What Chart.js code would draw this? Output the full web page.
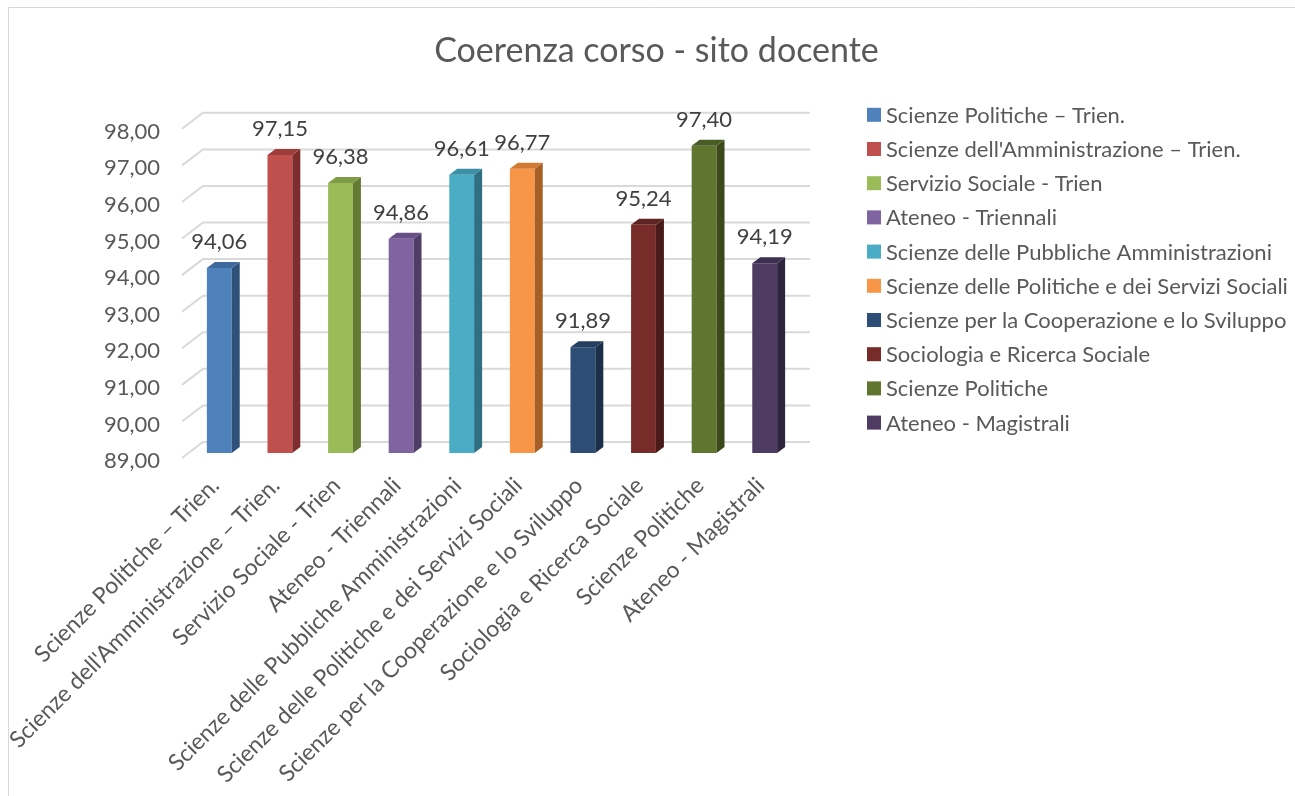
<!DOCTYPE html>
<html>
<head>
<meta charset="utf-8">
<script src="https://cdn.jsdelivr.net/npm/chart.js@4.4.1/dist/chart.umd.min.js"></script>
<style>
  html, body { margin: 0; padding: 0; background: #fff; }
  #wrap { position: relative; width: 1295px; height: 796px; }
</style>
</head>
<body>
<div id="wrap"><canvas id="chart" width="1295" height="796"></canvas></div>
<script>
// -----------------------------
// DATA
// -----------------------------
const categories = [
    "Scienze Politiche \u2013 Trien.",
    "Scienze dell'Amministrazione \u2013 Trien.",
    "Servizio Sociale - Trien",
    "Ateneo - Triennali",
    "Scienze delle Pubbliche Amministrazioni",
    "Scienze delle Politiche e dei Servizi Sociali",
    "Scienze per la Cooperazione e lo Sviluppo",
    "Sociologia e Ricerca Sociale",
    "Scienze Politiche",
    "Ateneo - Magistrali"
];
const values = [94.06, 97.15, 96.38, 94.86, 96.61, 96.77, 91.89, 95.24, 97.40, 94.19];
const yTicks = [89, 90, 91, 92, 93, 94, 95, 96, 97, 98];

const frontColors = ['#4F81BD', '#C0504D', '#9BBB59', '#8064A2', '#4BACC6', '#F79646', '#2C4D75', '#772C2A', '#5F7530', '#4D3B62'];
const topColors   = ['#3F6A9E', '#9E3E3B', '#7F9C46', '#684F86', '#3B8FA6', '#D07A33', '#233E5F', '#5F2322', '#4A5C25', '#3D2F4F'];
const sideColors  = ['#2F5079', '#7D2E2C', '#637A35', '#4F3C67', '#2E6F81', '#A65F25', '#1B2F49', '#4A1A19', '#3A481B', '#2F243D'];

const textColor = '#595959';
const fontFamily = 'Lato, "Open Sans", sans-serif';

// -----------------------------
// 3D LOOK: back wall grid + bar faces + labels + legend
// -----------------------------
const depth = { dx: 8, dy: -6 };
const wall = { dx: 14, dy: -11, left: 7, right: 15 };

const excel3d = {
    id: 'excel3d',
    beforeDraw(chart) {
        const c = chart.ctx;
        c.save();
        c.strokeStyle = '#D9D9D9';
        c.lineWidth = 1;
        c.beginPath();
        c.moveTo(8.5, 796); c.lineTo(8.5, 7.5); c.lineTo(1295, 7.5);
        c.stroke();
        c.restore();
    },
    beforeDatasetsDraw(chart) {
        const c = chart.ctx, y = chart.scales.y, area = chart.chartArea;
        c.save();
        c.strokeStyle = '#D9D9D9';
        c.lineWidth = 2;
        yTicks.forEach(t => {
            const py = y.getPixelForValue(t);
            c.beginPath();
            c.moveTo(area.left - wall.left, py + 5);
            c.lineTo(area.left + wall.dx, py + wall.dy);
            c.lineTo(area.right + wall.right, py + wall.dy);
            c.stroke();
        });
        c.restore();
    },
    afterDatasetsDraw(chart) {
        const c = chart.ctx, area = chart.chartArea;
        const meta = chart.getDatasetMeta(0);
        c.save();
        meta.data.forEach((bar, i) => {
            const l = bar.x - bar.width / 2, r = bar.x + bar.width / 2;
            const top = bar.y, base = Math.min(bar.base, area.bottom);
            // side face
            c.fillStyle = sideColors[i];
            c.beginPath();
            c.moveTo(r, top); c.lineTo(r + depth.dx, top + depth.dy);
            c.lineTo(r + depth.dx, base + depth.dy); c.lineTo(r, base);
            c.closePath(); c.fill();
            // top face
            c.fillStyle = topColors[i];
            c.beginPath();
            c.moveTo(l, top); c.lineTo(l + depth.dx, top + depth.dy);
            c.lineTo(r + depth.dx, top + depth.dy); c.lineTo(r, top);
            c.closePath(); c.fill();
            // value label
            c.fillStyle = '#404040';
            c.font = '22px ' + fontFamily;
            c.textAlign = 'center';
            c.textBaseline = 'middle';
            c.fillText(values[i].toFixed(2).replace('.', ','), bar.x, top - 26);
        });
        c.restore();
    },
    afterDraw(chart) {
        // legend, one entry per category, stacked at the right
        const c = chart.ctx, area = chart.chartArea;
        const x0 = area.right + 72, y0 = area.top - 9, step = 34.2;
        c.save();
        c.font = '22px ' + fontFamily;
        c.textAlign = 'left';
        c.textBaseline = 'middle';
        categories.forEach((name, i) => {
            const yc = y0 + i * step;
            c.fillStyle = frontColors[i];
            c.fillRect(x0, yc - 7, 14, 14);
            c.fillStyle = textColor;
            c.fillText(name, x0 + 19, yc + 1);
        });
        c.restore();
    }
};

// -----------------------------
// CHART
// -----------------------------
new Chart(document.getElementById('chart'), {
    type: 'bar',
    data: {
        labels: categories,
        datasets: [{
            label: 'Coerenza corso - sito docente',
            data: values,
            backgroundColor: frontColors,
            borderWidth: 0,
            barPercentage: 0.41,
            categoryPercentage: 1
        }]
    },
    options: {
        responsive: false,
        animation: false,
        layout: { padding: { left: 26, right: 8, top: 12, bottom: 0 } },
        plugins: {
            title: {
                display: true,
                text: 'Coerenza corso - sito docente',
                color: textColor,
                font: { family: fontFamily, size: 34, weight: 'normal' },
                padding: { top: 19, bottom: 52 }
            },
            legend: { display: false },
            tooltip: { enabled: false }
        },
        scales: {
            x: {
                grid: { display: false },
                border: { display: false },
                ticks: {
                    color: textColor,
                    font: { family: fontFamily, size: 23 },
                    minRotation: 45, maxRotation: 45,
                    autoSkip: false,
                    padding: 11,
                    labelOffset: -4
                },
                afterFit: axis => { axis.height = 343; }
            },
            y: {
                min: 89, max: 98,
                grid: { display: false },
                border: { display: false },
                ticks: {
                    color: textColor,
                    font: { family: fontFamily, size: 22 },
                    stepSize: 1,
                    padding: 21,
                    labelOffset: 8,
                    callback: v => v.toFixed(2).replace('.', ',')
                },
                afterFit: axis => { axis.width = 163; }
            },
            spacer: {
                position: 'right',
                display: true,
                grid: { display: false },
                border: { display: false },
                ticks: { display: false },
                afterFit: axis => { axis.width = 492; }
            }
        }
    },
    plugins: [excel3d]
});
</script>
</body>
</html>
